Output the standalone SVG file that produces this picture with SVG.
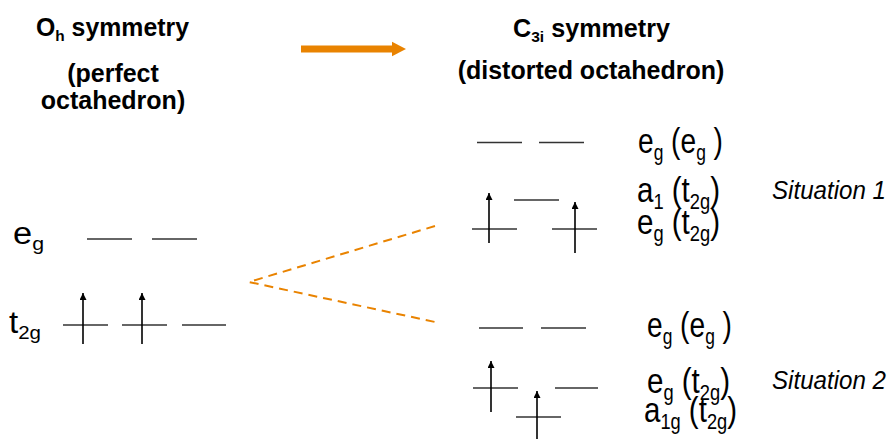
<svg xmlns="http://www.w3.org/2000/svg" width="891" height="439" viewBox="0 0 891 439">
<style>
.title{font-family:"Liberation Sans",Arial,sans-serif;font-weight:bold;font-size:25px;fill:#000}
.lbl{font-family:"Liberation Sans",Arial,sans-serif;font-size:35px;fill:#000}
.lblL{font-family:"Liberation Sans",Arial,sans-serif;font-size:31px;fill:#000}
.sit{font-family:"Liberation Sans",Arial,sans-serif;font-style:italic;font-size:26px;fill:#000}
.sub{font-size:62%}
.lvl{stroke:#333;stroke-width:1.6;fill:none}
.el{stroke:#000;stroke-width:1.6;fill:none;marker-end:url(#ah)}
.dash{stroke:#E98300;stroke-width:2;stroke-dasharray:9 6;fill:none}
</style>
<defs>
<marker id="ah" viewBox="0 0 10 10" refX="10" refY="5" markerUnits="userSpaceOnUse" markerWidth="9" markerHeight="7" orient="auto">
<path d="M0,0 L10,5 L0,10 z" fill="#000"/>
</marker>
</defs>
<rect width="891" height="439" fill="#fff"/>
<g id="title-oh">
<text class="title" x="36" y="36" textLength="153" lengthAdjust="spacingAndGlyphs">O<tspan class="sub" dy="5">h</tspan><tspan dy="-5"> symmetry</tspan></text>
<text class="title" x="113" y="82" text-anchor="middle">(perfect</text>
<text class="title" x="113" y="109" text-anchor="middle">octahedron)</text>
</g>
<g id="title-c3i">
<text class="title" x="513" y="37" textLength="157" lengthAdjust="spacingAndGlyphs">C<tspan class="sub" dy="5">3i</tspan><tspan dy="-5"> symmetry</tspan></text>
<text class="title" x="591" y="79" text-anchor="middle">(distorted octahedron)</text>
</g>
<g id="oh-levels">
<text class="lblL" x="13" y="244" textLength="31" lengthAdjust="spacingAndGlyphs">e<tspan class="sub" dy="6">g</tspan></text>
<text class="lblL" x="9" y="333" textLength="32" lengthAdjust="spacingAndGlyphs">t<tspan class="sub" dy="6">2g</tspan></text>
<line class="lvl" x1="87" y1="239" x2="132" y2="239"/>
<line class="lvl" x1="152" y1="239" x2="197" y2="239"/>
<line class="lvl" x1="63" y1="325" x2="108" y2="325"/>
<line class="lvl" x1="122" y1="325" x2="167" y2="325"/>
<line class="lvl" x1="182" y1="325" x2="226" y2="325"/>
<line class="el" x1="83" y1="344" x2="83" y2="293"/>
<line class="el" x1="142" y1="344" x2="142" y2="293"/>
</g>
<g id="situation1">
<line class="lvl" x1="477" y1="142.5" x2="522" y2="142.5"/>
<line class="lvl" x1="539" y1="142.5" x2="584" y2="142.5"/>
<line class="lvl" x1="514" y1="200" x2="559" y2="200"/>
<line class="lvl" x1="472" y1="229" x2="517" y2="229"/>
<line class="lvl" x1="552" y1="229" x2="597" y2="229"/>
<line class="el" x1="489" y1="243" x2="489" y2="193"/>
<line class="el" x1="575" y1="253" x2="575" y2="202"/>
<text class="lbl" x="638" y="153" textLength="85" lengthAdjust="spacingAndGlyphs">e<tspan class="sub" dy="7">g</tspan><tspan dy="-7"> (e</tspan><tspan class="sub" dy="7">g</tspan><tspan dy="-7"> )</tspan></text>
<text class="lbl" x="637" y="202" textLength="83" lengthAdjust="spacingAndGlyphs">a<tspan class="sub" dy="7">1</tspan><tspan dy="-7"> (t</tspan><tspan class="sub" dy="7">2g</tspan><tspan dy="-7">)</tspan></text>
<text class="lbl" x="637" y="234" textLength="83" lengthAdjust="spacingAndGlyphs">e<tspan class="sub" dy="7">g</tspan><tspan dy="-7"> (t</tspan><tspan class="sub" dy="7">2g</tspan><tspan dy="-7">)</tspan></text>
<text class="sit" x="772" y="199" textLength="114" lengthAdjust="spacingAndGlyphs">Situation 1</text>
</g>
<g id="situation2">
<line class="lvl" x1="479" y1="328" x2="523" y2="328"/>
<line class="lvl" x1="541" y1="328" x2="586" y2="328"/>
<line class="lvl" x1="473" y1="388" x2="518" y2="388"/>
<line class="lvl" x1="555" y1="388" x2="598" y2="388"/>
<line class="lvl" x1="516" y1="417" x2="561" y2="417"/>
<line class="el" x1="491" y1="412" x2="491" y2="361"/>
<line class="el" x1="537" y1="439" x2="537" y2="391"/>
<text class="lbl" x="647" y="337" textLength="85" lengthAdjust="spacingAndGlyphs">e<tspan class="sub" dy="7">g</tspan><tspan dy="-7"> (e</tspan><tspan class="sub" dy="7">g</tspan><tspan dy="-7"> )</tspan></text>
<text class="lbl" x="647" y="393" textLength="83" lengthAdjust="spacingAndGlyphs">e<tspan class="sub" dy="7">g</tspan><tspan dy="-7"> (t</tspan><tspan class="sub" dy="7">2g</tspan><tspan dy="-7">)</tspan></text>
<text class="lbl" x="644" y="422" textLength="93" lengthAdjust="spacingAndGlyphs">a<tspan class="sub" dy="7">1g</tspan><tspan dy="-7"> (t</tspan><tspan class="sub" dy="7">2g</tspan><tspan dy="-7">)</tspan></text>
<text class="sit" x="772" y="389" textLength="114" lengthAdjust="spacingAndGlyphs">Situation 2</text>
</g>
<g id="connectors">
<rect x="301" y="45.5" width="93" height="7" fill="#E98300"/>
<polygon points="392,41.7 406,49 392,56.3" fill="#E98300"/>
<polyline class="dash" points="435,226 249,282 435,322"/>
</g>
</svg>
